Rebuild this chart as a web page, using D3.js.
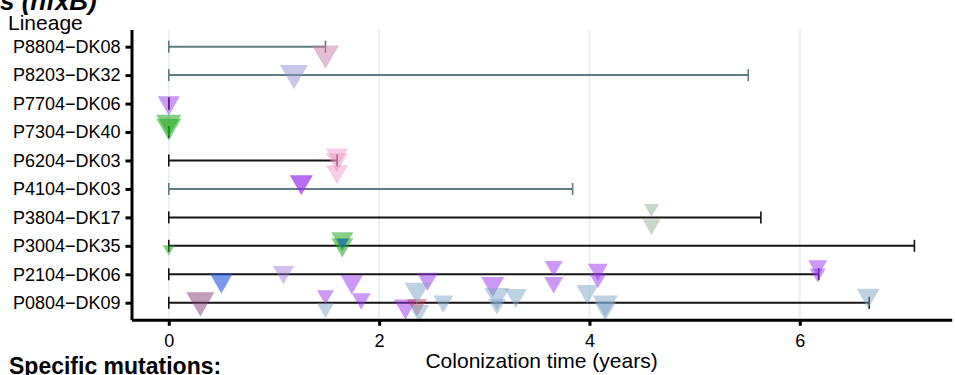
<!DOCTYPE html>
<html>
<head>
<meta charset="utf-8">
<script src="https://cdn.jsdelivr.net/npm/d3@7"></script>
<style>
  html, body { margin: 0; padding: 0; background: #fff; }
  svg { display: block; font-family: "Liberation Sans", Arial, Helvetica, sans-serif; }
</style>
</head>
<body>
<div id="chart"></div>
<script>
// Lineages, top to bottom
const lineages = [
  "P8804-DK08", "P8203-DK32", "P7704-DK06", "P7304-DK40", "P6204-DK03",
  "P4104-DK03", "P3804-DK17", "P3004-DK35", "P2104-DK06", "P0804-DK09"
];
// Colonization span per lineage (years) and its line group
const spanEnd   = [1.49, 5.51, 0, 0, 1.60, 3.84, 5.63, 7.09, 6.18, 6.66];
const spanGroup = ["b", "b", "a", "a", "a", "b", "a", "a", "a", "a"];

// Specific mutations: lineage index, time (years), vertical jitter (rows), size, type
const mutLineage = [0, 1, 2, 3, 3, 4, 4, 4, 5, 6, 6, 7, 7, 7, 7,
  8, 8, 8, 8, 8, 8, 8, 8, 8, 8, 8,
  9, 9, 9, 9, 9, 9, 9, 9, 9, 9, 9, 9, 9, 9, 9, 9];
const mutTime = [1.49, 1.19, 0, 0, 0, 1.60, 1.60, 1.60, 1.26, 4.59, 4.59, 0, 1.65, 1.65, 1.65,
  0.50, 1.09, 1.74, 2.46, 3.08, 3.66, 3.66, 4.08, 4.08, 6.17, 6.17,
  0.30, 1.49, 1.49, 1.83, 2.25, 2.36, 2.36, 2.38, 2.61, 3.12, 3.12, 3.30, 3.98, 4.15, 4.15, 6.65];
const mutJitter = [0.23, -0.07, -0.03, -0.35, -0.21, -0.20, -0.03, 0.39, -0.25, -0.32, 0.25, 0.10, -0.25, -0.04, -0.13,
  0.21, -0.08, 0.26, 0.16, 0.33, -0.28, 0.29, -0.17, 0.15, -0.30, -0.04,
  -0.08, -0.27, 0.19, -0.14, 0.12, 0.07, -0.45, 0.28, -0.05, -0.26, 0.05, -0.26, -0.40, 0.00, 0.19, -0.26];
const mutSize = [27, 28, 22, 25, 25, 22, 22, 22, 23, 15, 18, 12, 22, 22, 12,
  23, 21, 22, 21, 23, 18, 19, 20, 17, 19, 16,
  28, 17, 17, 19, 23, 20, 25, 20, 20, 25, 18, 22, 22, 25, 22, 23];
const mutType = ["pink", "lavender", "purple", "green", "green", "lightpink", "lightpink", "lightpink", "violet", "sage", "sage", "green", "green", "green", "blue",
  "blue", "lavender2", "purple", "purple", "purple", "purple", "purple", "purple", "purple", "purple", "purple",
  "mauve", "purple", "steel", "purple", "purple", "red", "steel", "steel", "steel", "steel", "steel", "steel", "steel", "steel", "steel", "steel"];

const xTicks = [0, 2, 4, 6];

const palette = {
  pink: ["#c979a9", 0.5], lavender: ["#9191d1", 0.5], lavender2: ["#a070e0", 0.45],
  purple: ["#9933ee", 0.5], violet: ["#9a2ef0", 0.7], green: ["#22aa22", 0.55],
  lightpink: ["#eb91c3", 0.45], sage: ["#91af91", 0.5], blue: ["#2255dd", 0.6],
  mauve: ["#8a3a78", 0.5], steel: ["#7da5c9", 0.5], red: ["#c0304a", 0.45]
};
const lineColor = { a: "#141414", b: "#5f7d82" };

const width = 955, height = 375;
const margin = { top: 29.6, right: 3.3, bottom: 55.2, left: 131.5 };

const svg = d3.select("#chart").append("svg")
  .attr("width", width)
  .attr("height", height);

// Scales (ggplot-like 5% expansion on x, 0.6 step on discrete y)
const xMax = d3.max(spanEnd);
const pad = xMax * 0.05;
const x = d3.scaleLinear()
  .domain([-pad, xMax + pad])
  .range([margin.left, width - margin.right]);
const y = d3.scalePoint()
  .domain(lineages)
  .range([margin.top, height - margin.bottom])
  .padding(0.6);
const step = y.step();

// Vertical grid lines
svg.append("g").selectAll("line")
  .data(xTicks)
  .join("line")
  .attr("x1", d => x(d)).attr("x2", d => x(d))
  .attr("y1", margin.top).attr("y2", height - margin.bottom)
  .attr("stroke", "#e9f0f5")
  .attr("stroke-width", 2);

// Colonization spans with end caps
const spans = svg.append("g").selectAll("g")
  .data(lineages)
  .join("g")
  .attr("stroke", (d, i) => lineColor[spanGroup[i]]);

spans.append("line")
  .attr("x1", x(0)).attr("x2", (d, i) => x(spanEnd[i]))
  .attr("y1", d => y(d)).attr("y2", d => y(d))
  .attr("stroke-width", 2);

spans.selectAll("line.cap")
  .data((d, i) => [{ l: d, t: 0 }, { l: d, t: spanEnd[i] }])
  .join("line")
  .attr("class", "cap")
  .attr("x1", d => x(d.t)).attr("x2", d => x(d.t))
  .attr("y1", d => y(d.l) - 6).attr("y2", d => y(d.l) + 6)
  .attr("stroke-width", 1.6);

// Mutation triangles (pointing down)
const muts = mutTime.map((t, i) => ({
  t, l: lineages[mutLineage[i]], j: mutJitter[i], s: mutSize[i], type: mutType[i]
}));

svg.append("g").selectAll("path")
  .data(muts)
  .join("path")
  .attr("d", d => d3.symbol().type(d3.symbolTriangle).size(d.s * d.s * Math.sqrt(3) / 4)())
  .attr("transform", d => `translate(${x(d.t)},${y(d.l) + d.j * step}) rotate(180)`)
  .attr("fill", d => palette[d.type][0])
  .attr("fill-opacity", d => palette[d.type][1]);

// Axes
const xAxis = svg.append("g")
  .attr("transform", `translate(0,${height - margin.bottom})`)
  .call(d3.axisBottom(x).tickValues(xTicks).tickSize(6).tickPadding(8).tickSizeOuter(0));
xAxis.select(".domain").attr("stroke", "#000").attr("stroke-width", 3);
xAxis.selectAll(".tick line").attr("stroke", "#000").attr("stroke-width", 3);
xAxis.selectAll(".tick text")
  .attr("fill", "#000")
  .style("font-size", "18px")
  .style("font-family", "'Liberation Sans', Arial, sans-serif");

const yAxis = svg.append("g")
  .attr("transform", `translate(${margin.left},0)`)
  .call(d3.axisLeft(y).tickSize(6).tickPadding(5).tickSizeOuter(0)
    .tickFormat(d => d.replace("-", "\u2212")));
yAxis.select(".domain").attr("stroke", "#000").attr("stroke-width", 3);
yAxis.selectAll(".tick line").attr("stroke", "#000").attr("stroke-width", 3);
yAxis.selectAll(".tick text")
  .attr("fill", "#000")
  .style("font-size", "18px")
  .style("font-family", "'Liberation Sans', Arial, sans-serif");

// Labels
svg.append("text")
  .attr("x", 0).attr("y", 10)
  .style("font-size", "26px").style("font-weight", "bold").style("font-style", "italic")
  .text("s (nfxB)");

svg.append("text")
  .attr("x", 8).attr("y", 30)
  .style("font-size", "21px")
  .text("Lineage");

svg.append("text")
  .attr("x", (margin.left + width - margin.right) / 2).attr("y", 368)
  .attr("text-anchor", "middle")
  .style("font-size", "21px")
  .text("Colonization time (years)");

svg.append("text")
  .attr("x", 9).attr("y", 374)
  .style("font-size", "23px").style("font-weight", "bold")
  .text("Specific mutations:");
</script>
</body>
</html>
